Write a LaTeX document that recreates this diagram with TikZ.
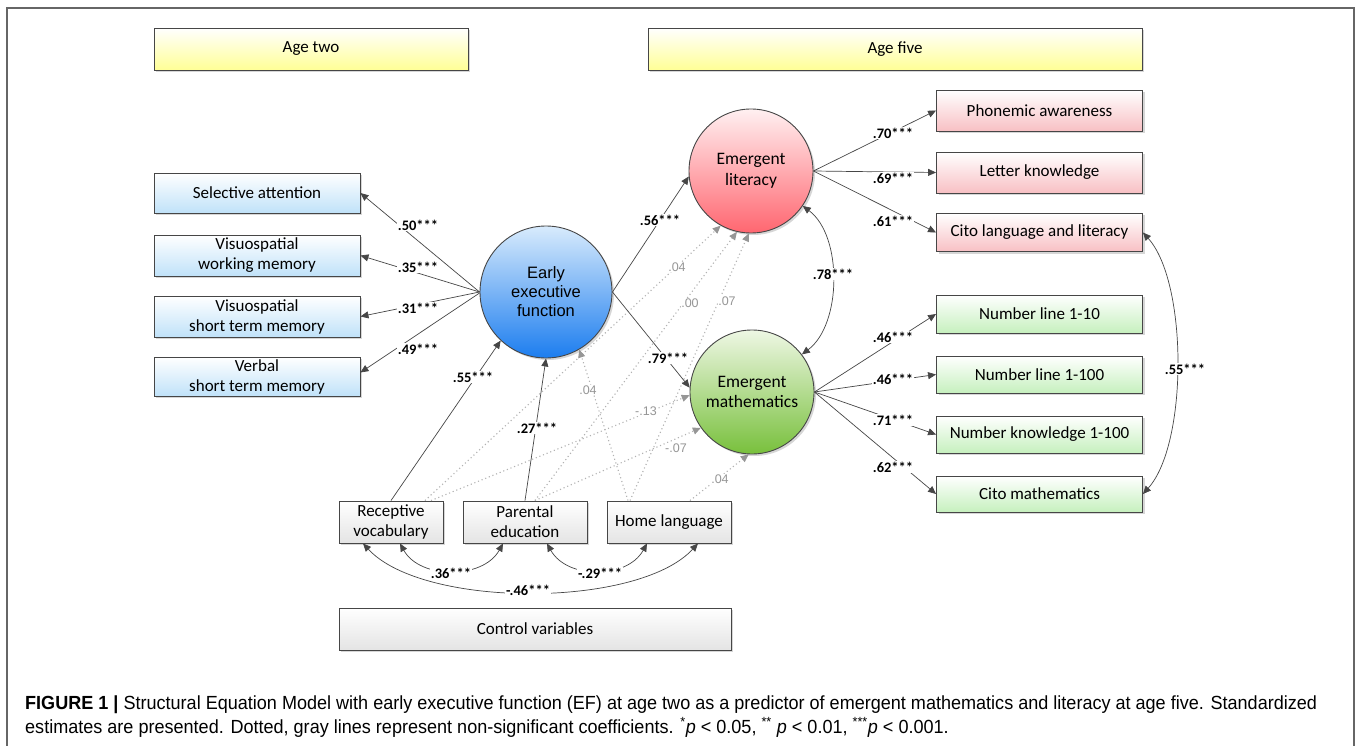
\documentclass[tikz,border=0pt]{standalone}
\usepackage{fontspec}
\setmainfont{Carlito}
\newfontfamily\arialf{Liberation Sans}
\newfontfamily\capf[FakeStretch=0.95]{Liberation Sans}
\usetikzlibrary{arrows.meta,shadows,calc}
\definecolor{edge}{RGB}{70,70,70}
\definecolor{yelB}{RGB}{255,255,150}
\definecolor{bluB}{RGB}{192,226,249}
\definecolor{pinB}{RGB}{248,192,196}
\definecolor{grnB}{RGB}{198,240,190}
\definecolor{gryB}{RGB}{228,228,228}
\definecolor{efT}{RGB}{216,235,252}
\definecolor{efB}{RGB}{28,125,239}
\definecolor{litT}{RGB}{255,240,241}
\definecolor{litB}{RGB}{255,102,112}
\definecolor{matT}{RGB}{238,247,228}
\definecolor{matB}{RGB}{120,192,60}
\definecolor{nsgray}{RGB}{150,150,150}
\begin{document}
\begin{tikzpicture}[x=1pt,y=-1pt,
  shadowed/.style={drop shadow={shadow xshift=2pt,shadow yshift=-2pt,fill=black!40,opacity=0.4}},
  box/.style={draw=edge, line width=0.9pt, align=center, inner sep=0pt,
    font=\fontsize{17}{20}\selectfont, shadowed},
  agebox/.style={box, top color=white, bottom color=yelB, minimum height=42pt},
  lbox/.style={box, top color=white, bottom color=bluB, minimum width=206pt, minimum height=40pt},
  pbox/.style={box, top color=white, bottom color=pinB, minimum width=206pt, minimum height=39pt},
  gbox/.style={box, top color=white, bottom color=grnB, minimum width=206pt, minimum height=37pt},
  cbox/.style={box, top color=white, bottom color=gryB, minimum height=42pt},
  circ/.style={circle, draw=edge, line width=0.9pt, align=center, inner sep=0pt,
    font=\fontsize{17.5}{20.5}\selectfont, shadowed},
  tip/.tip={Triangle[length=8pt,width=7pt]},
  conn/.style={draw=edge, line width=0.7pt, -tip},
  cov/.style={draw=edge, line width=0.7pt, tip-tip},
  ns/.style={draw=black!30, line width=1.1pt, dash pattern=on 1.1pt off 2.8pt, -{Triangle[length=8pt,width=7pt,color=nsgray]}},
  sig/.style={font=\bfseries\fontsize{14.5}{15}\selectfont, fill=white, inner sep=1pt},
  nsl/.style={font=\arialf\fontsize{12.5}{13}\selectfont, text=nsgray, fill=white, inner sep=0.5pt},
  capt/.style={font=\capf\fontsize{19}{22}\selectfont, inner sep=0pt, anchor=base west}
]
\useasboundingbox (0,0) rectangle (1360,746);
\fill[white] (0,0) rectangle (1360,746);
\draw[black!60, line width=1.2pt] (7,746) -- (7,8) -- (1354,8) -- (1354,746);

% header boxes
\node[agebox, minimum width=314pt] (agetwo) at (311,49) {Age two};
\node[agebox, minimum width=494pt] (agefive) at (895,49) {Age five};

% EF indicators
\node[lbox] (sa) at (257,193) {Selective attention};
\node[lbox, minimum height=41pt] (vwm) at (257,255.5) {Visuospatial\\working memory};
\node[lbox, minimum height=41pt] (vstm) at (257,316.5) {Visuospatial\\short term memory};
\node[lbox, minimum height=39pt] (vbstm) at (257,376.5) {Verbal\\short term memory};

% latent variables
\node[circ, minimum size=132pt, top color=efT, bottom color=efB,
  font=\arialf\fontsize{16.5}{19}\selectfont] (ef) at (546,292) {Early\\executive\\function};
\node[circ, minimum size=124pt, top color=litT, bottom color=litB] (lit) at (751,171) {Emergent\\literacy};
\node[circ, minimum size=124pt, top color=matT, bottom color=matB] (math) at (752,392) {Emergent\\mathematics};

% outcome indicators
\node[pbox, minimum height=41pt] (pa) at (1039.5,110.5) {Phonemic awareness};
\node[pbox, minimum height=41pt] (lk) at (1039.5,172.5) {Letter knowledge};
\node[pbox, minimum height=38pt] (cl) at (1039.5,232.5) {Cito language and literacy};
\node[gbox, minimum height=38pt] (nl10) at (1039.5,314) {Number line 1-10};
\node[gbox] (nl100) at (1039.5,374.5) {Number line 1-100};
\node[gbox] (nk) at (1039.5,434.5) {Number knowledge 1-100};
\node[gbox, minimum height=36pt] (cm) at (1039.5,494) {Cito mathematics};

% control variables
\node[cbox, minimum width=104pt] (rv) at (391,522) {Receptive\\vocabulary};
\node[cbox, minimum width=124pt] (pe) at (525,522) {Parental\\education};
\node[cbox, minimum width=124pt] (hl) at (669,522) {Home language};
\node[cbox, minimum width=392pt] (cv) at (535,629) {Control variables};

% non-significant paths
\draw[ns] ($(rv.north)+(34,0)$) -- (lit.241);
\draw[ns] ($(rv.north)+(40,0)$) -- (math.183);
\draw[ns] ($(pe.north)+(10,0)$) -- (lit.257);
\draw[ns] ($(pe.north)+(10,0)$) -- (math.215);
\draw[ns] ($(hl.north)+(-41,0)$) -- (ef.-60);
\draw[ns] ($(hl.north)+(-39,0)$) -- (lit.268);
\draw[ns] ($(hl.north)+(21,0)$) -- (math.267);

% measurement model EF
\draw[conn] (ef.west) -- (sa.east);
\draw[conn] (ef.west) -- (vwm.east);
\draw[conn] (ef.west) -- (vstm.east);
\draw[conn] ($(ef.west)+(0,1)$) -- ($(vbstm.east)+(0,-4)$);

% structural paths
\draw[conn] (rv.north) -- (ef.227);
\draw[conn] (pe.north) -- (ef.south);
\draw[conn] (ef.east) -- (lit.185);
\draw[conn] (ef.east) -- (math.176);
\draw[cov] (lit.-34) .. controls +(40,30) and +(40,-30) .. (math.37);

% measurement model outcomes
\draw[conn] (lit.east) -- (pa.west);
\draw[conn] (lit.east) -- (lk.west);
\draw[conn] (lit.east) -- (cl.west);
\draw[conn] (math.east) -- (nl10.west);
\draw[conn] (math.east) -- (nl100.west);
\draw[conn] (math.east) -- (nk.west);
\draw[conn] (math.east) -- (cm.west);
\draw[cov] (cl.east) .. controls +(45,50) and +(45,-50) .. (cm.east);

% control covariances
\draw[cov] ($(rv.south)+(9,0)$) .. controls +(20,36) and +(-20,36) .. ($(pe.south)+(-22,0)$);
\draw[cov] ($(pe.south)+(22,0)$) .. controls +(20,36) and +(-20,36) .. ($(hl.south)+(-22,0)$);
\draw[cov] ($(rv.south)+(-28,0)$) .. controls +(60,65) and +(-60,65) .. ($(hl.south)+(29,0)$);

% significant labels
\node[sig] (l50) at (418,225) {.50***};
\node[sig] (l35) at (418,267) {.35***};
\node[sig] (l31) at (418,308) {.31***};
\node[sig] (l49) at (418,349) {.49***};
\node[sig] (l55) at (473,377) {.55***};
\node[sig] (l27) at (537,428) {.27***};
\node[sig] (l56) at (660,220) {.56***};
\node[sig] (l79) at (668,358) {.79***};
\node[sig] (l78) at (833,274) {.78***};
\node[sig] (l70) at (893,133) {.70***};
\node[sig] (l69) at (893,178) {.69***};
\node[sig] (l61) at (893,221) {.61***};
\node[sig] (l46a) at (893,337) {.46***};
\node[sig] (l46b) at (893,379) {.46***};
\node[sig] (l71) at (893,420) {.71***};
\node[sig] (l62) at (893,467) {.62***};
\node[sig] (l55b) at (1185,369) {.55***};
\node[sig] (l36) at (451,573) {.36***};
\node[sig] (l29) at (600,573) {-.29***};
\node[sig] (l46c) at (528,590) {-.46***};

% non-significant labels
\node[nsl] (n1) at (677,267) {.04};
\node[nsl] (n2) at (690,303) {.00};
\node[nsl] (n3) at (727,301) {.07};
\node[nsl] (n4) at (588,390) {.04};
\node[nsl] (n5) at (646,411) {-.13};
\node[nsl] (n6) at (676,448) {-.07};
\node[nsl] (n7) at (720,479) {.04};

% caption
\node[capt] (cap1) at (25,709) {{\bfseries FIGURE 1 |} Structural Equation Model with early executive function (EF) at age two as a predictor of emergent mathematics and literacy at age five. Standardized};
\node[capt] (cap2) at (25,733) {estimates are presented. Dotted, gray lines represent non-significant coefficients. \textsuperscript{*}\textit{p} < 0.05, \textsuperscript{**} \textit{p} < 0.01, \textsuperscript{***}\textit{p} < 0.001.};
\end{tikzpicture}
\end{document}
